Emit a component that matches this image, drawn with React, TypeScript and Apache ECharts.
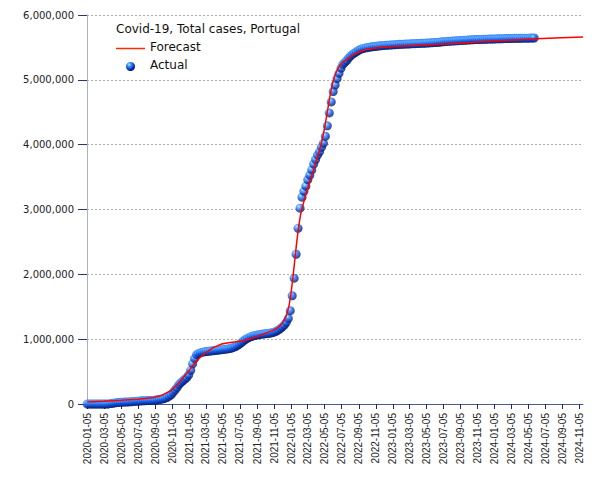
import React, { useEffect, useRef } from "react";
import * as echarts from "echarts";

// Actual: weekly cumulative cases (thousands), starting 2020-01-05
const actualStart = "2020-01-05";
const actualWeeklyK = [
  0, 0, 0, 0, 0, 0, 0, 0, 0, 0.03,
  0.25, 1.6, 5.9, 11.3, 16.6, 20.2, 23.9, 25.5, 27.6, 29.0,
  30.6, 32.5, 34.4, 36.5, 39.1, 41.9, 44.1, 46.2, 48.4, 50.1,
  51.7, 52.7, 54.2, 55.9, 58.0, 60.5, 64.6, 69.2, 74.7, 79.6,
  89.1, 103, 121, 144, 180, 217, 255, 299, 330, 358,
  383, 410, 450, 520, 620, 700, 760, 780, 790, 800,
  805, 810, 813, 817, 820, 823, 827, 830, 834, 838,
  842, 846, 850, 855, 862, 872, 886, 904, 925, 948,
  972, 995, 1012, 1027, 1040, 1050, 1058, 1064, 1069, 1074,
  1078, 1082, 1086, 1090, 1095, 1102, 1112, 1125, 1142, 1165,
  1190, 1220, 1260, 1320, 1440, 1670, 1940, 2310, 2710, 3020,
  3190, 3280, 3360, 3460, 3530, 3610, 3700, 3770, 3840, 3890,
  3960, 4020, 4130, 4290, 4490, 4660, 4820, 4920, 5020, 5100,
  5180, 5240, 5270, 5300, 5340, 5370, 5395, 5415, 5435, 5455,
  5470, 5480, 5488, 5495, 5500, 5505, 5510, 5514, 5518, 5521,
  5524, 5527, 5530, 5532, 5535, 5537, 5539, 5541, 5543, 5545,
  5547, 5548, 5550, 5551, 5553, 5554, 5556, 5557, 5558, 5560,
  5561, 5563, 5564, 5566, 5567, 5569, 5571, 5573, 5575, 5577,
  5580, 5583, 5586, 5589, 5592, 5594, 5596, 5598, 5600, 5602,
  5604, 5606, 5608, 5610, 5612, 5614, 5616, 5618, 5620, 5621,
  5622, 5623, 5624, 5625, 5626, 5627, 5628, 5629, 5630, 5631,
  5632, 5633, 5634, 5635, 5636, 5637, 5637, 5638, 5639, 5640,
  5640, 5641, 5641, 5642, 5642, 5643, 5643, 5644, 5644, 5645,
];

// Forecast curve (thousands)
const forecastDates = [
  "2020-01-05", "2020-03-05", "2020-05-05", "2020-07-05", "2020-09-01",
  "2020-10-01", "2020-11-01", "2020-12-01", "2021-01-01", "2021-02-01",
  "2021-03-01", "2021-04-01", "2021-05-01", "2021-06-01", "2021-07-01",
  "2021-08-01", "2021-09-01", "2021-10-01", "2021-11-01", "2021-11-20",
  "2021-12-05", "2021-12-18", "2021-12-28", "2022-01-04", "2022-01-11",
  "2022-01-18", "2022-01-25", "2022-02-01", "2022-02-08", "2022-02-16",
  "2022-02-26", "2022-03-08", "2022-03-20", "2022-04-01", "2022-04-13",
  "2022-04-24", "2022-05-04", "2022-05-14", "2022-05-24", "2022-06-03",
  "2022-06-13", "2022-06-24", "2022-07-08", "2022-07-28", "2022-08-25",
  "2022-09-25", "2022-11-01", "2023-01-01", "2023-03-01", "2023-06-01",
  "2023-09-01", "2023-12-01", "2024-03-01", "2024-06-01", "2024-09-01",
  "2024-11-17",
];
const forecastK = [
  30, 42, 58, 75, 100,
  140, 210, 340, 500, 670,
  780, 870, 925, 950, 965,
  990, 1035, 1085, 1135, 1180,
  1250, 1350, 1500, 1680, 1930,
  2210, 2490, 2730, 2920, 3060,
  3220, 3360, 3520, 3680, 3860,
  4030, 4230, 4480, 4740, 4950,
  5090, 5190, 5270, 5330, 5410,
  5460, 5490, 5515, 5525, 5545,
  5565, 5590, 5610, 5635, 5650,
  5660,
];

const xTickDates = [
  "2020-01-05", "2020-03-05", "2020-05-05", "2020-07-05", "2020-09-05", "2020-11-05",
  "2021-01-05", "2021-03-05", "2021-05-05", "2021-07-05", "2021-09-05", "2021-11-05",
  "2022-01-05", "2022-03-05", "2022-05-05", "2022-07-05", "2022-09-05", "2022-11-05",
  "2023-01-05", "2023-03-05", "2023-05-05", "2023-07-05", "2023-09-05", "2023-11-05",
  "2024-01-05", "2024-03-05", "2024-05-05", "2024-07-05", "2024-09-05", "2024-11-05",
];

const chartTitle = "Covid-19, Total cases, Portugal";
const forecastName = "Forecast";
const actualName = "Actual";

function ts(s: string) {
  const [y, m, d] = s.split("-").map(Number);
  return Date.UTC(y, m - 1, d);
}
function pad(n: number) {
  return n < 10 ? "0" + n : "" + n;
}
function fmtDate(v: number) {
  const d = new Date(v);
  return d.getUTCFullYear() + "-" + pad(d.getUTCMonth() + 1) + "-" + pad(d.getUTCDate());
}

const DAY = 86400000;

export default function App() {
  const ref = useRef<HTMLDivElement>(null);
  useEffect(() => {
    if (!ref.current) return;
    const chart = echarts.init(ref.current, undefined, { renderer: "svg" });
    const start = ts(actualStart);
    const actualData = actualWeeklyK.map((v, i) => [start + i * 7 * DAY, v * 1000]);
    const forecastData = forecastDates.map((d, i) => [ts(d), forecastK[i] * 1000]);
    const tickTs = xTickDates.map(ts);
    const sphere = () =>
      new echarts.graphic.RadialGradient(0.36, 0.3, 0.75, [
        { offset: 0, color: "#b8e8ff" },
        { offset: 0.28, color: "#3d94ff" },
        { offset: 0.62, color: "#0c45d2" },
        { offset: 1, color: "#03104a" },
      ]);
    const font = "DejaVu Sans";
    chart.setOption({
      animation: false,
      textStyle: { fontFamily: font },
      grid: { left: 87, top: 15, right: 22, bottom: 76 },
      xAxis: {
        type: "value",
        min: ts("2020-01-04"),
        max: ts("2024-11-17"),
        axisLine: { show: true, onZero: false, lineStyle: { color: "#4a5a94", width: 1 } },
        axisTick: {
          show: true,
          length: 5,
          customValues: tickTs,
          lineStyle: { color: "#1c2a6e" },
        },
        axisLabel: {
          customValues: tickTs,
          rotate: 90,
          formatter: (v: number) => fmtDate(v),
          fontSize: 10,
          fontFamily: "Liberation Sans",
          color: "#222",
          margin: 9,
          hideOverlap: false,
          showMinLabel: true,
          showMaxLabel: true,
        },
        splitLine: { show: false },
      },
      yAxis: {
        type: "value",
        min: 0,
        max: 6000000,
        interval: 1000000,
        axisLine: { show: true, lineStyle: { color: "#a8b0cc", width: 1 } },
        axisTick: { show: true, length: 9, lineStyle: { color: "#2a3470" } },
        axisLabel: {
          formatter: (v: number) => v.toLocaleString("en-US"),
          fontSize: 10,
          color: "#222",
          margin: 13,
        },
        splitLine: {
          show: true,
          lineStyle: { color: "#b0b0b0", type: [2, 2], width: 1 },
        },
      },
      series: [
        {
          type: "scatter",
          name: actualName,
          data: actualData,
          symbol: "circle",
          symbolSize: 9,
          itemStyle: { color: sphere() },
          clip: false,
          z: 2,
        },
        {
          type: "line",
          name: forecastName,
          data: forecastData,
          showSymbol: false,
          symbol: "none",
          lineStyle: { color: "#ff0000", width: 1.5 },
          z: 3,
        },
      ],
      graphic: [
        {
          type: "text",
          left: 116,
          top: 23,
          style: { text: chartTitle, font: `12px "${font}"`, fill: "#111" },
        },
        {
          type: "line",
          shape: { x1: 116, y1: 48.5, x2: 145, y2: 48.5 },
          style: { stroke: "#ff2a00", lineWidth: 1.5 },
        },
        {
          type: "text",
          left: 150,
          top: 41,
          style: { text: forecastName, font: `12px "${font}"`, fill: "#111" },
        },
        {
          type: "circle",
          shape: { cx: 130.5, cy: 66.5, r: 4.5 },
          style: { fill: sphere() },
        },
        {
          type: "text",
          left: 150,
          top: 59,
          style: { text: actualName, font: `12px "${font}"`, fill: "#111" },
        },
      ],
    });
    return () => chart.dispose();
  }, []);
  return (
    <div
      ref={ref}
      style={{ position: "absolute", left: 0, top: 0, width: 605, height: 480 }}
    />
  );
}
